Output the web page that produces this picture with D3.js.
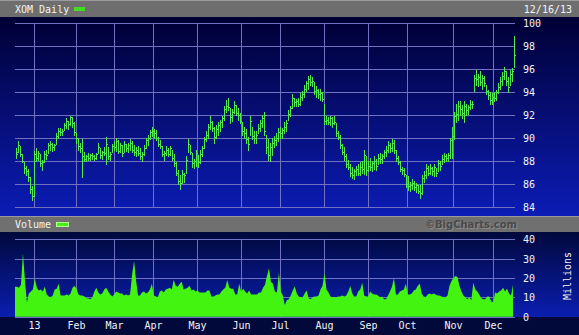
<!DOCTYPE html>
<html>
<head>
<meta charset="utf-8">
<script src="https://cdn.jsdelivr.net/npm/d3@7"></script>
<style>
  html, body { margin: 0; padding: 0; background: #000; }
  svg { display: block; }
  text { font-family: "DejaVu Sans Mono", monospace; font-size: 10px; fill: #f4f4f4; }
</style>
</head>
<body>
<svg id="chart" width="579" height="335"></svg>
<script>
const firstDay = '2012-12-17', lastDay = '2013-12-16'
const holidays = ['2012-12-25','2013-01-01','2013-01-21','2013-02-18','2013-03-29',
    '2013-05-27','2013-07-04','2013-09-02','2013-11-28']

const highs = [
    89.0,89.1,89.7,89.3,88.6,87.9,87.6,87.3,86.6,85.8,
    88.9,89.1,88.9,88.6,88.1,88.9,89.0,89.6,89.7,89.6,
    89.5,90.4,90.9,90.9,90.8,91.3,91.7,91.5,91.9,91.8,
    91.4,90.4,90.0,89.6,89.9,88.8,88.5,88.7,88.6,88.7,
    88.5,88.7,89.6,89.1,88.9,89.2,90.1,89.2,88.8,89.5,
    89.7,90.0,89.8,89.6,89.4,89.7,89.5,89.6,89.9,89.7,
    89.4,89.2,89.3,89.1,88.8,89.4,90.0,90.3,90.7,91.0,
    90.8,90.7,90.1,89.8,89.3,88.9,89.3,89.1,89.3,89.0,
    88.6,87.9,87.2,86.8,87.2,87.0,88.4,89.9,89.4,88.7,
    88.2,89.0,88.5,89.0,89.3,90.1,90.6,91.2,91.9,91.5,
    91.0,91.1,91.4,91.6,91.9,92.8,93.3,93.5,92.6,92.5,
    93.2,92.9,92.6,92.2,91.4,91.0,90.8,90.1,91.9,91.0,
    90.6,90.6,91.2,91.6,92.0,92.3,91.8,90.3,89.9,89.6,
    90.0,90.2,90.4,90.9,91.0,90.9,91.4,91.6,92.4,92.8,
    93.8,93.5,93.4,93.5,93.9,94.1,94.6,95.0,95.4,95.5,
    95.3,94.9,94.5,94.3,94.3,94.0,93.0,91.9,91.8,91.9,
    91.8,91.9,91.3,90.6,90.3,89.5,89.2,88.6,88.1,87.7,
    87.5,87.3,87.6,87.7,87.9,88.0,89.0,88.4,88.0,88.3,
    88.0,88.4,88.2,88.6,88.7,88.6,89.0,89.3,89.7,89.6,
    89.9,89.8,89.0,88.4,88.0,87.5,87.4,86.8,86.7,86.2,
    86.4,86.3,86.1,85.9,85.9,86.8,87.1,87.7,87.6,87.7,
    87.5,87.7,87.4,88.1,88.0,88.5,88.7,88.6,88.7,90.0,
    91.0,92.3,93.0,93.2,93.2,92.9,93.2,93.0,92.9,93.3,
    93.2,95.5,95.9,95.6,95.8,95.5,95.4,94.6,94.2,94.0,
    93.9,94.0,94.2,94.8,95.3,95.7,96.2,95.8,95.3,95.9,
    96.1,98.9]

const lows = [
    88.3,88.4,88.8,88.4,87.9,87.0,86.8,86.3,85.2,84.6,
    85.0,88.0,88.1,87.6,87.2,87.9,88.2,88.7,89.0,88.9,
    89.0,89.5,90.0,90.3,90.3,90.7,90.9,90.8,91.1,91.0,
    90.3,89.6,89.0,88.8,86.6,88.0,88.0,88.1,88.1,88.2,
    88.1,88.2,88.7,88.3,88.2,88.5,87.7,88.2,88.1,88.8,
    89.0,88.9,88.7,88.8,88.4,88.8,88.9,88.8,89.0,88.8,
    88.5,88.4,88.5,88.2,88.0,88.5,89.1,89.4,89.9,90.2,
    90.0,89.8,89.3,89.1,88.4,88.1,88.5,88.4,88.5,88.1,
    87.6,86.8,86.0,85.6,86.1,86.2,87.0,88.8,88.6,87.5,
    87.4,87.6,87.5,87.8,88.4,89.1,89.7,90.0,90.8,90.6,
    89.6,90.0,90.3,90.6,91.0,91.6,92.3,92.4,91.3,91.5,
    92.2,92.0,91.6,91.3,90.3,90.0,89.6,89.0,90.3,89.9,
    89.6,89.6,90.4,90.6,91.0,91.2,90.3,88.7,88.1,88.0,
    88.5,89.2,89.4,89.7,90.0,90.0,90.4,90.6,91.6,91.9,
    92.6,92.8,92.8,92.8,92.9,93.3,93.6,94.1,94.3,94.6,
    94.5,93.8,93.6,93.5,93.3,93.2,91.2,91.2,91.2,91.1,
    91.0,91.2,90.2,89.9,89.1,88.6,88.1,87.5,87.3,86.7,
    86.5,86.4,86.8,86.8,86.8,87.0,86.9,86.8,87.1,87.2,
    87.1,87.3,87.2,87.7,87.8,87.8,88.3,88.4,88.8,88.8,
    88.9,88.7,88.0,87.7,87.1,86.9,86.7,85.7,85.5,85.4,
    85.6,85.5,85.3,85.2,84.8,85.1,86.2,86.5,86.8,86.9,
    86.8,86.7,86.7,87.1,87.2,87.7,87.9,88.0,88.0,88.3,
    88.3,89.9,91.4,91.6,92.0,91.7,91.4,92.0,92.1,92.5,
    92.6,94.1,94.6,94.5,94.6,94.3,94.5,93.8,93.4,93.0,
    93.0,93.2,93.3,93.9,94.3,94.6,95.1,94.6,94.0,94.6,
    95.0,96.2]

const closes = [
    88.8,88.6,89.4,88.6,88.0,87.4,87.1,86.6,85.6,85.0,
    88.6,88.3,88.7,87.8,87.9,88.6,88.5,89.4,89.5,89.2,
    89.4,90.2,90.6,90.5,90.6,91.1,91.5,91.2,91.8,91.3,
    90.5,90.0,89.3,89.1,88.4,88.2,88.4,88.3,88.5,88.4,
    88.3,88.6,89.2,88.5,88.8,88.7,89.5,88.4,88.6,89.3,
    89.2,89.7,88.9,89.4,88.7,89.5,89.1,89.4,89.6,89.0,
    88.8,89.0,88.7,88.4,88.6,89.1,89.8,90.0,90.5,90.6,
    90.4,90.0,89.5,89.3,88.6,88.7,89.0,88.6,89.1,88.3,
    87.8,87.0,86.3,86.1,86.9,86.8,88.1,89.5,88.8,87.8,
    88.0,88.7,87.9,88.6,89.1,89.9,90.3,91.0,91.4,90.9,
    90.1,90.8,91.1,91.4,91.7,92.5,92.8,92.7,91.8,92.3,
    92.9,92.2,92.0,91.5,90.6,90.4,89.9,89.5,91.5,90.2,
    90.0,90.3,90.9,91.3,91.7,92.0,90.6,89.2,88.5,89.2,
    89.6,89.8,90.0,90.5,90.4,90.7,91.0,91.3,92.1,92.6,
    93.5,93.1,93.2,93.0,93.6,93.8,94.3,94.8,95.1,94.9,
    95.0,94.1,94.2,93.8,93.9,93.4,91.5,91.6,91.4,91.7,
    91.3,91.4,90.4,90.1,89.4,88.8,88.4,87.7,87.5,87.0,
    86.8,87.1,87.3,87.0,87.5,87.3,88.5,87.2,87.6,87.5,
    87.8,88.0,87.6,88.3,88.2,88.4,88.8,89.0,89.4,89.1,
    89.6,89.0,88.3,87.9,87.3,87.2,86.9,86.0,85.8,85.9,
    86.1,85.7,85.9,85.4,85.2,86.5,86.8,87.4,87.0,87.4,
    87.1,87.5,87.0,87.8,87.6,88.2,88.4,88.3,88.5,89.8,
    90.2,91.9,92.1,92.8,92.5,92.2,92.8,92.4,92.7,93.0,
    93.0,95.2,95.1,95.3,94.9,95.2,94.8,94.1,93.7,93.3,
    93.6,93.5,94.0,94.4,95.0,95.4,95.8,95.0,94.4,95.6,
    95.8,97.2]

// millions of shares
const volumes = [
    15.5,15.5,15,16.5,32.7,19,7.5,12,13,14,
    19.8,15,13.5,14,13,15.5,11.5,10.5,10,11,
    14,14.5,17,11,11,11,11.5,11,12,15,
    16,14.5,11.5,11,11,10.5,9.5,9.5,9,10,
    13,15,12.5,11.5,12,14,15,13,11.5,10.5,
    11.5,13,12.5,12,12,11,11.5,11,11.5,21.5,
    28.8,19,11,11,12.5,13,12,12.5,14,17,
    11,10.5,10,13,13.5,12.5,14,14.5,15,14,
    19,16,15.5,17,18,14,14.5,15,16,13.5,
    14,13,13.5,12.5,12.5,12.5,12.5,13.5,13.5,10.5,
    10.5,11,11.5,11.5,13,14,15,19,15,14.5,
    14.5,11.5,11.5,17,13,14.5,13,12,13.5,11.5,
    11.5,11.5,11.5,12.5,12.5,15,16.5,21,25,18,
    17,13,12.5,22.7,13,11,6,8.5,9,11,
    13.5,15.8,12,10.5,10,10,12,13.5,9.5,9,
    10,10.5,10.5,11,14,16,22.4,14,12.5,10.5,
    10,10,10,10.5,10.5,11,10.5,11,13,15.9,
    12,10.5,10.5,13,14,17.6,11,10.5,10.5,13,
    12,11.5,11.5,11,10,10.5,9,9,11,13,
    15.5,20,11.5,11.5,13,13.5,14,17,11.5,11.5,
    12,13.5,14,16,17,12,10.5,10,11.5,12,
    11.5,12,11.5,11,11,10.5,10,10,11,16,
    18.5,20,21,20.5,16,13,11,10,9,10,
    8.6,17.5,14,13,11.5,9.5,9,9,10.5,10.5,
    8,7.5,12.5,12,13,13.5,15,13,14.5,12,
    11,16.5]

const priceTicks = [84, 86, 88, 90, 92, 94, 96, 98, 100]
const volumeTicks = [0, 10, 20, 30, 40]
const monthLabels = ['13','Feb','Mar','Apr','May','Jun','Jul','Aug','Sep','Oct','Nov','Dec']

const W = 579, H = 335
const plotLeft = 15, plotRight = 513, tickEnd = 515
const gridColor = '#7171c2', barColor = '#52e852', volColor = '#44f411'

const parse = d3.utcParse('%Y-%m-%d'), fmt = d3.utcFormat('%Y-%m-%d')
const dates = d3.utcDays(parse(firstDay), d3.utcDay.offset(parse(lastDay), 1))
    .filter(d => d.getUTCDay() % 6 !== 0 && holidays.indexOf(fmt(d)) == -1)

const n = Math.min(dates.length, highs.length)
const idx = d3.range(n)

const monthStarts = idx.filter(i => i > 0 && dates[i].getUTCMonth() !== dates[i - 1].getUTCMonth())

const x = d3.scalePoint().domain(idx).range([plotLeft, plotRight])
const yPrice = d3.scaleLinear().domain([84, 100]).range([207, 23])
const yVol = d3.scaleLinear().domain([0, 40]).range([316.7, 239.3])

const crisp = v => Math.round(v) + 0.5
// bars sit on even pixel columns, close tick on the odd one beside it
const barCol = i => 2 * Math.round(x(i) / 2)

const svg = d3.select('#chart')
const defs = svg.append('defs')

function gradient(id, top, bottom) {
    const g = defs.append('linearGradient').attr('id', id)
        .attr('x1', 0).attr('y1', 0).attr('x2', 0).attr('y2', 1)
    g.append('stop').attr('offset', '0%').attr('stop-color', top)
    g.append('stop').attr('offset', '100%').attr('stop-color', bottom)
}
gradient('priceBg', '#000034', '#0b1cb6')
gradient('volBg', '#00083c', '#0a1eb0')

// backgrounds
svg.append('rect').attr('width', W).attr('height', H).attr('fill', '#00093a')
svg.append('rect').attr('y', 17).attr('width', W).attr('height', 199).attr('fill', 'url(#priceBg)')
svg.append('rect').attr('y', 232).attr('width', W).attr('height', 85).attr('fill', 'url(#volBg)')

// header bars
svg.append('rect').attr('width', W).attr('height', 17).attr('fill', '#6e6e6e')
svg.append('rect').attr('width', W).attr('height', 1).attr('fill', '#9a9a9a')
svg.append('rect').attr('y', 216).attr('width', W).attr('height', 16).attr('fill', '#707070')
svg.append('rect').attr('y', 216).attr('width', W).attr('height', 1).attr('fill', '#9a9a9a')

svg.append('text').attr('x', 15).attr('y', 13).text('XOM Daily')
svg.append('rect').attr('x', 74).attr('y', 7).attr('width', 11).attr('height', 4).attr('fill', '#44dd22')
svg.append('text').attr('x', 572).attr('y', 13).attr('text-anchor', 'end').text('12/16/13')

svg.append('text').attr('x', 15).attr('y', 228).text('Volume')
svg.append('rect').attr('x', 56.5).attr('y', 222.5).attr('width', 12).attr('height', 4)
    .attr('fill', '#44f411').attr('stroke', '#b8ff9a').attr('stroke-width', 1)

svg.append('text').attr('x', 472).attr('y', 229).attr('text-anchor', 'middle')
    .attr('textLength', 92).attr('lengthAdjust', 'spacingAndGlyphs')
    .style('font-family', '"DejaVu Sans", sans-serif').style('font-size', '11px')
    .style('font-weight', 'bold').style('fill', '#8c8c8c').text('\u00a9BigCharts.com')
svg.append('text').attr('x', 471).attr('y', 228).attr('text-anchor', 'middle')
    .attr('textLength', 92).attr('lengthAdjust', 'spacingAndGlyphs')
    .style('font-family', '"DejaVu Sans", sans-serif').style('font-size', '11px')
    .style('font-weight', 'bold').style('fill', '#4a4a4a').text('\u00a9BigCharts.com')

function styleAxis(g) {
    g.select('.domain').remove()
    g.selectAll('.tick line').attr('stroke', gridColor)
    g.selectAll('.tick text').style('fill', '#f4f4f4')
        .style('font-family', '"DejaVu Sans Mono", monospace').style('font-size', '10px')
}

// price grid + labels
svg.append('g')
    .attr('transform', `translate(${tickEnd},0.5)`)
    .call(d3.axisRight(yPrice).tickValues(priceTicks).tickSize(plotLeft - tickEnd).tickPadding(8).tickFormat(d3.format('d')))
    .call(styleAxis)
    .call(g => g.selectAll('.tick').attr('transform', d => `translate(0,${Math.round(yPrice(d))})`))

svg.append('g')
    .attr('transform', `translate(0,${yPrice(84)})`)
    .call(d3.axisBottom(x).tickValues(monthStarts).tickSize(yPrice(100) - yPrice(84)).tickFormat(''))
    .call(styleAxis)
    .call(g => g.selectAll('.tick').attr('transform', d => `translate(${crisp(x(d) - 0.5)},0)`))

// volume grid + labels
svg.append('g')
    .attr('transform', `translate(${tickEnd},0.5)`)
    .call(d3.axisRight(yVol).tickValues(volumeTicks).tickSize(plotLeft - tickEnd).tickPadding(8))
    .call(styleAxis)
    .call(g => g.selectAll('.tick').attr('transform', d => `translate(0,${Math.round(yVol(d))})`))

svg.append('g')
    .attr('transform', `translate(0,${yVol(0)})`)
    .call(d3.axisBottom(x).tickValues(monthStarts).tickSize(yVol(40) - yVol(0)).tickPadding(5)
        .tickFormat((d, i) => monthLabels[i]))
    .call(styleAxis)
    .call(g => g.selectAll('.tick').attr('transform', d => `translate(${crisp(x(d) - 0.5)},0)`))

svg.append('text')
    .attr('transform', 'translate(571,276) rotate(-90)')
    .attr('text-anchor', 'middle')
    .text('Millions')

// volume area
const area = d3.area()
    .x(i => x(i))
    .y0(yVol(0))
    .y1(i => yVol(volumes[i]))

svg.append('path')
    .datum(idx)
    .attr('fill', volColor)
    .attr('d', area)

// price bars
const bars = svg.append('g').attr('class', 'bars')
    .attr('stroke', barColor).attr('stroke-width', 1).attr('shape-rendering', 'crispEdges')

bars.selectAll('line.hl')
    .data(idx)
    .enter().append('line')
    .attr('class', 'hl')
    .attr('x1', i => barCol(i) + 0.5).attr('x2', i => barCol(i) + 0.5)
    .attr('y1', i => Math.round(yPrice(highs[i])))
    .attr('y2', i => Math.round(yPrice(lows[i])) + 1)

bars.selectAll('line.close')
    .data(idx)
    .enter().append('line')
    .attr('class', 'close')
    .attr('x1', i => barCol(i) + 1).attr('x2', i => barCol(i) + 2)
    .attr('y1', i => crisp(yPrice(closes[i]))).attr('y2', i => crisp(yPrice(closes[i])))
</script>
</body>
</html>
